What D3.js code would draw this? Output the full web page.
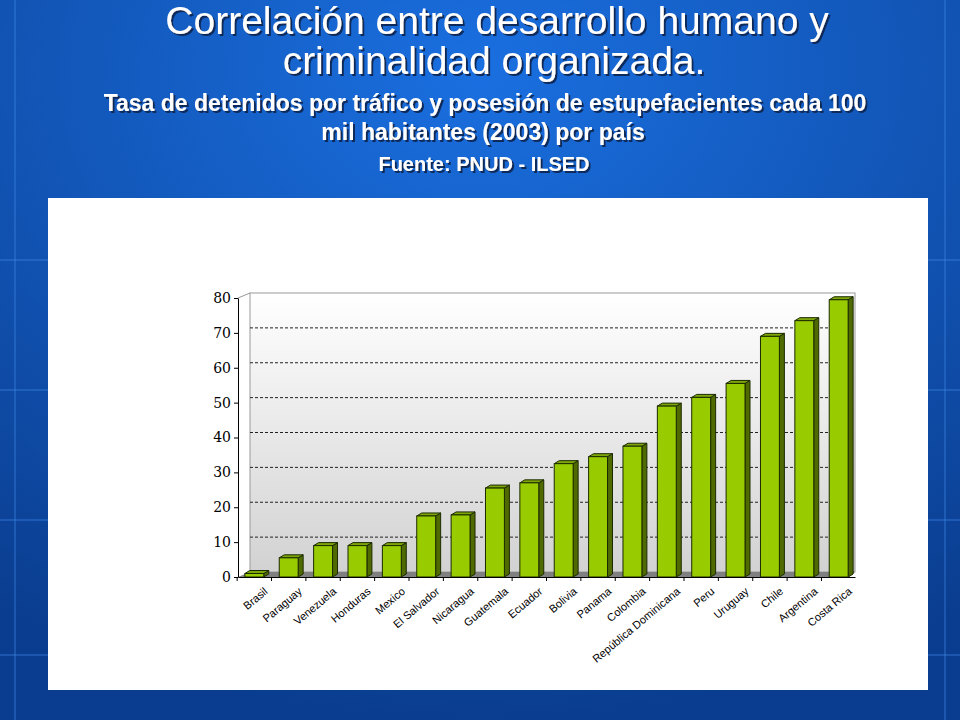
<!DOCTYPE html>
<html><head><meta charset="utf-8">
<script src="https://cdn.jsdelivr.net/npm/d3@7"></script>
<style>body{margin:0;overflow:hidden}</style>
</head><body>
<svg id="c" width="960" height="720"></svg>
<script>
const countries = ["Brasil","Paraguay","Venezuela","Honduras","Mexico","El Salvador","Nicaragua","Guatemala","Ecuador","Bolivia","Panama","Colombia","República Dominicana","Peru","Uruguay","Chile","Argentina","Costa Rica"];
const tasas = [1,5.5,9,9,9,17.5,17.8,25.5,27,32.5,34.5,37.5,49,51.5,55.5,69,73.5,79.5];
const yTicks = [0,10,20,30,40,50,60,70,80];

const svg = d3.select("#c");
const defs = svg.append("defs");
const bg = defs.append("radialGradient").attr("id","bg").attr("cx","50%").attr("cy","10%").attr("r","90%");
bg.append("stop").attr("offset","0").attr("stop-color","#1a6fe0");
bg.append("stop").attr("offset","1").attr("stop-color","#0a3d8f");
svg.append("rect").attr("width",960).attr("height",720).attr("fill","url(#bg)");
const sh = defs.append("filter").attr("id","sh");
sh.append("feDropShadow").attr("dx",2).attr("dy",2).attr("stdDeviation",0.5).attr("flood-color","#0a2a5a");
// background grid lines
const g0 = svg.append("g").attr("stroke","#3f86e6").attr("stroke-opacity",0.35).attr("stroke-width",2);
[260,390,520,655].forEach(y=>g0.append("line").attr("x1",0).attr("x2",960).attr("y1",y).attr("y2",y));
[15,945].forEach(x=>g0.append("line").attr("x1",x).attr("x2",x).attr("y1",0).attr("y2",720));

const tg = svg.append("g").attr("fill","white").attr("font-family","Liberation Sans, Arial, sans-serif")
  .attr("text-anchor","middle").attr("filter","url(#sh)");
function t(txt,x,y,size,weight){
  tg.append("text").attr("x",x).attr("y",y).attr("font-size",size).attr("font-weight",weight).text(txt);
}
t("Correlación entre desarrollo humano y",497,34,39,"normal");
t("criminalidad organizada.",494,74,39,"normal");
t("Tasa de detenidos por tráfico y posesión de estupefacientes cada 100",485,111,23,"bold");
t("mil habitantes (2003) por país",483,140,23,"bold");
t("Fuente: PNUD - ILSED",484,171,20,"bold");

svg.append("rect").attr("x",48).attr("y",198).attr("width",880).attr("height",492).attr("fill","white");

const left=238, right=855, y0=577, y80=298, dx=12, dy=-5;
const x = d3.scaleBand().domain(countries).range([left,right]).paddingInner(0.45).paddingOuter(0.2);
const y = d3.scaleLinear().domain([0,80]).range([y0,y80]);

const wg = defs.append("linearGradient").attr("id","wall").attr("x1",0).attr("x2",0).attr("y1",0).attr("y2",1);
wg.append("stop").attr("offset","0").attr("stop-color","#ffffff");
wg.append("stop").attr("offset","1").attr("stop-color","#d2d2d2");
svg.append("rect").attr("x",left+dx).attr("y",y(80)+dy).attr("width",right-left-dx).attr("height",y0-y(80)).attr("fill","url(#wall)").attr("stroke","#999");
svg.append("path").attr("d",`M${left},${y0}L${left+dx},${y0+dy}L${right},${y0+dy}L${right-dx+6},${y0}Z`).attr("fill","#808080");
svg.append("line").attr("x1",left).attr("x2",left+dx).attr("y1",y(80)).attr("y2",y(80)+dy).attr("stroke","#999");
svg.append("g").selectAll("line").data(yTicks.slice(1,-1)).join("line")
  .attr("x1",left+dx).attr("x2",right).attr("y1",d=>y(d)+dy).attr("y2",d=>y(d)+dy)
  .attr("stroke","#222").attr("stroke-dasharray","3,2");

const bw = x.bandwidth(), bd=5, bdy=-3;
const bars = svg.append("g").selectAll("g").data(tasas).join("g").attr("stroke","#1c2a00").attr("stroke-width",1);
bars.append("path").attr("d",(d,i)=>{const x1=x(countries[i])+bw,yt=y(d);return `M${x1},${yt}L${x1+bd},${yt+bdy}L${x1+bd},${y0+bdy}L${x1},${y0}Z`;}).attr("fill","#4f6a00");
bars.append("path").attr("d",(d,i)=>{const x0=x(countries[i]),yt=y(d);return `M${x0},${yt}L${x0+bd},${yt+bdy}L${x0+bw+bd},${yt+bdy}L${x0+bw},${yt}Z`;}).attr("fill","#7ea60a");
bars.append("rect").attr("x",(d,i)=>x(countries[i])).attr("y",d=>y(d)).attr("width",bw).attr("height",d=>y0-y(d)).attr("fill","#99cc00");

svg.append("g").attr("transform",`translate(${left},0)`)
  .call(d3.axisLeft(y).tickValues(yTicks).tickSize(4).tickSizeOuter(0))
  .call(g=>g.selectAll("text").attr("font-size",14).attr("font-family","DejaVu Serif, serif").attr("fill","#000"));
const xa = svg.append("g").attr("transform",`translate(0,${y0})`)
  .call(d3.axisBottom(x).tickSize(4).tickSizeOuter(0));
xa.selectAll(".tick line").attr("transform",`translate(${-x.step()/2},0)`);
xa.selectAll("text").attr("font-size",11).attr("font-family","Liberation Sans, Arial, sans-serif").attr("fill","#000")
  .attr("text-anchor","end").attr("transform","translate(6,6) rotate(-40)").attr("dy","0.5em");
</script>
</body></html>
